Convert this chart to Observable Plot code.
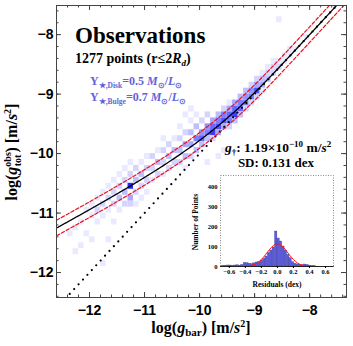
<!DOCTYPE html>
<html><head><meta charset="utf-8">
<script src="https://cdn.jsdelivr.net/npm/d3@7"></script>
<script src="https://cdn.jsdelivr.net/npm/@observablehq/plot@0.6"></script>
<style>
body{margin:0;background:#fff;}
#wrap{position:relative;width:353px;height:346px;}
#wrap svg{position:absolute;}
</style></head><body><div id="wrap"></div>
<script>
// ---------- data ----------
// density cells: [log gbar lower edge, log gobs lower edge, intensity level 1..10]
const densityCells = [
 [-12.4,-11.4,1],
 [-12.3,-11.3,1],[-12.3,-11.7,1],
 [-12.2,-11.2,1],[-12.2,-11.6,1],
 [-12.1,-11.0,1],[-12.1,-11.4,1],
 [-12.0,-10.9,1],[-12.0,-11.1,1],[-12.0,-11.5,1],
 [-11.9,-10.8,1],[-11.9,-11.0,2],[-11.9,-11.2,1],
 [-11.8,-10.7,1],[-11.8,-10.9,2],[-11.8,-11.1,1],[-11.8,-11.9,1],
 [-11.7,-10.6,1],[-11.7,-10.8,2],[-11.7,-11.0,1],[-11.7,-11.5,1],
 [-11.6,-10.5,1],[-11.6,-10.7,2],[-11.6,-10.9,2],[-11.6,-11.2,1],
 [-11.5,-10.4,1],[-11.5,-10.6,2],[-11.5,-10.8,3],[-11.5,-11.0,1],
 [-11.4,-10.3,1],[-11.4,-10.5,2],[-11.4,-10.7,3],[-11.4,-10.9,2],
 [-11.3,-10.2,1],[-11.3,-10.4,2],[-11.3,-10.6,10],[-11.3,-10.8,4],[-11.3,-10.9,2],
 [-11.2,-10.3,2],[-11.2,-10.5,3],[-11.2,-10.7,2],[-11.2,-10.9,1],
 [-11.1,-10.2,1],[-11.1,-10.4,3],[-11.1,-10.6,2],[-11.1,-10.8,1],
 [-11.0,-10.1,1],[-11.0,-10.3,2],[-11.0,-10.5,2],[-11.0,-10.7,1],
 [-10.9,-10.1,2],[-10.9,-10.3,2],[-10.9,-10.5,1],
 [-10.8,-10.0,1],[-10.8,-10.2,3],[-10.8,-10.4,2],
 [-10.7,-9.8,1],[-10.7,-10.0,2],[-10.7,-10.2,2],[-10.7,-10.4,1],
 [-10.6,-9.9,2],[-10.6,-10.1,3],[-10.6,-10.3,2],
 [-10.5,-9.8,1],[-10.5,-10.0,3],[-10.5,-10.2,2],
 [-10.4,-9.6,1],[-10.4,-9.8,2],[-10.4,-10.0,3],[-10.4,-10.2,2],
 [-10.3,-9.4,1],[-10.3,-9.7,2],[-10.3,-9.9,4],[-10.3,-10.1,3],[-10.3,-10.3,1],
 [-10.2,-9.3,1],[-10.2,-9.5,1],[-10.2,-9.7,3],[-10.2,-9.9,4],[-10.2,-10.1,2],
 [-10.1,-9.4,1],[-10.1,-9.6,3],[-10.1,-9.8,6],[-10.1,-10.0,3],
 [-10.0,-9.5,2],[-10.0,-9.7,5],[-10.0,-9.8,7],[-10.0,-9.9,3],
 [-9.9,-9.4,2],[-9.9,-9.6,5],[-9.9,-9.7,6],[-9.9,-9.8,3],[-9.9,-10.2,1],
 [-9.8,-9.5,4],[-9.8,-9.6,7],[-9.8,-9.7,9],[-9.8,-9.8,2],
 [-9.7,-9.4,3],[-9.7,-9.5,6],[-9.7,-9.6,8],[-9.7,-9.7,4],[-9.7,-10.1,1],
 [-9.6,-9.3,2],[-9.6,-9.4,6],[-9.6,-9.5,8],[-9.6,-9.6,4],[-9.6,-10.0,1],
 [-9.5,-9.2,1],[-9.5,-9.3,4],[-9.5,-9.4,7],[-9.5,-9.5,6],[-9.5,-9.6,2],
 [-9.4,-9.2,4],[-9.4,-9.3,7],[-9.4,-9.4,9],[-9.4,-9.5,3],
 [-9.3,-9.1,3],[-9.3,-9.2,6],[-9.3,-9.3,7],[-9.3,-9.4,3],
 [-9.2,-9.0,3],[-9.2,-9.1,5],[-9.2,-9.2,6],[-9.2,-9.3,2],
 [-9.1,-8.9,2],[-9.1,-9.0,5],[-9.1,-9.1,6],[-9.1,-9.2,2],
 [-9.0,-8.8,2],[-9.0,-8.9,4],[-9.0,-9.0,8],[-9.0,-9.1,2],
 [-8.9,-8.7,1],[-8.9,-8.8,3],[-8.9,-8.9,4],[-8.9,-9.0,1],
 [-8.8,-8.6,1],[-8.8,-8.7,2],[-8.8,-8.8,3],
 [-8.7,-8.5,1],[-8.7,-8.6,2],[-8.7,-8.7,2],
 [-8.6,-7.8,1],[-8.6,-8.5,1],[-8.6,-8.6,2],
 [-8.5,-8.4,1],[-8.5,-8.5,1],
 [-8.4,-8.3,1],[-8.4,-8.4,1],
 [-8.3,-8.3,1],
 [-8.1,-8.1,1]
];
const gDagger = 1.19e-10;   // fitted acceleration scale (m/s^2)
const scatterSD = 0.131;    // dex
const nPoints = 1277;
const xMajorTicks = [-12,-11,-10,-9,-8];
const yMajorTicks = [-12,-11,-10,-9,-8];
const xMinorTicks = d3.range(-12.6,-7.3,0.2).map(v=>Math.round(v*5)/5);
const yMinorTicks = d3.range(-12.4,-7.5,0.2).map(v=>Math.round(v*5)/5);
// residual histogram (left bin edge, counts), bin width 0.03 dex
const residBinStart = [-0.69,-0.66,-0.63,-0.60,-0.57,-0.54,-0.51,-0.48,-0.45,-0.42,-0.39,-0.36,-0.33,-0.30,-0.27,-0.24,-0.21,-0.18,-0.15,-0.12,-0.09,-0.06,-0.03,0.00,0.03,0.06,0.09,0.12,0.15,0.18,0.21,0.24,0.27,0.30,0.33,0.36,0.39,0.42,0.45];
const residCounts   = [3,4,5,5,4,5,6,4,8,18,17,14,12,16,20,22,30,38,50,68,80,95,175,140,125,100,80,58,42,22,14,10,9,7,10,8,4,2,2];
const residBinWidth = 0.03;
// gaussian fit curve
const gaussX = [-0.7,-0.5,-0.4,-0.35,-0.3,-0.25,-0.2,-0.15,-0.1,-0.05,0,0.05,0.1,0.15,0.2,0.25,0.3,0.35,0.4,0.5,0.7];
const gaussY = [0,0,1,3,8,18,35,58,84,105,113,105,84,58,35,18,8,3,1,0,0];
const histXTicks = [-0.6,-0.4,-0.2,0,0.2,0.4,0.6];
const histYTicks = [0,100,200,300,400];

// ---------- geometry ----------
const W=353,H=346,mL=56,mR=7,mT=5,mB=49;
const fH=H-mT-mB, fW=W-mL-mR;
const xDom=[-12.6,-7.33], yDom=[-12.42,-7.51];

const logGdag = Math.log10(gDagger);
const fitX = d3.range(xDom[0], xDom[1]+0.01, 0.02);
const rar = x => { const r = Math.sqrt(Math.pow(10, x - logGdag)); return x - Math.log10(1 - Math.exp(-r)); };
const fit = fitX.map(x => ({x, y: rar(x)}));
const oneToOne = [{x:xDom[0],y:xDom[0]},{x:xDom[1],y:xDom[1]}];

const main = Plot.plot({
  width:W,height:H,marginLeft:mL,marginRight:mR,marginTop:mT,marginBottom:mB,
  x:{domain:xDom,label:null}, y:{domain:yDom,label:null},
  color:{type:"linear",domain:[0,10],range:["#ffffff","#2626ff"]},
  style:{fontFamily:"'Liberation Sans', Arial, sans-serif",background:"#fff"},
  marks:[
    Plot.rect(densityCells,{x1:d=>d[0],x2:d=>d[0]+0.1,y1:d=>d[1],y2:d=>d[1]+0.1,fill:d=>d[2]}),
    Plot.line(oneToOne,{x:"x",y:"y",stroke:"#000",strokeWidth:2.2,strokeDasharray:"0 6.5",strokeLinecap:"round",clip:true}),
    Plot.line(fit,{x:"x",y:d=>d.y+scatterSD,stroke:"#e8141c",strokeWidth:1.2,strokeDasharray:"3.5 2",clip:true}),
    Plot.line(fit,{x:"x",y:d=>d.y-scatterSD,stroke:"#e8141c",strokeWidth:1.2,strokeDasharray:"3.5 2",clip:true}),
    Plot.line(fit,{x:"x",y:"y",stroke:"#000",strokeWidth:1.3,clip:true}),
    Plot.tickX(xMajorTicks,{x:d=>d,insetTop:fH-5,stroke:"#444"}),
    Plot.tickX(xMajorTicks,{x:d=>d,insetBottom:fH-5,stroke:"#444"}),
    Plot.tickX(xMinorTicks,{x:d=>d,insetTop:fH-2.5,stroke:"#444"}),
    Plot.tickX(xMinorTicks,{x:d=>d,insetBottom:fH-2.5,stroke:"#444"}),
    Plot.tickY(yMajorTicks,{y:d=>d,insetRight:fW-5,stroke:"#444"}),
    Plot.tickY(yMajorTicks,{y:d=>d,insetLeft:fW-5,stroke:"#444"}),
    Plot.tickY(yMinorTicks,{y:d=>d,insetRight:fW-2.5,stroke:"#444"}),
    Plot.tickY(yMinorTicks,{y:d=>d,insetLeft:fW-2.5,stroke:"#444"}),
    Plot.axisX({ticks:xMajorTicks,tickSize:0,tickPadding:8,fontSize:14,fontWeight:"bold",tickFormat:d3.format("d"),label:null}),
    Plot.axisY({ticks:yMajorTicks,tickSize:0,tickPadding:3,fontSize:14,fontWeight:"bold",tickFormat:d3.format("d"),label:null}),
    Plot.frame({stroke:"#444"})
  ]
});
document.getElementById("wrap").appendChild(main);

// ---------- inset ----------
const IL=186, IT=168, IW=154, IH=125;
const bins = residBinStart.map((s,i)=>({x1:s,x2:s+residBinWidth,n:residCounts[i]}));
const gauss = gaussX.map((x,i)=>({x,y:gaussY[i]}));
const inset = Plot.plot({
  width:IW,height:IH,marginLeft:34,marginRight:7,marginTop:7,marginBottom:27,
  x:{domain:[-0.71,0.7],label:null}, y:{domain:[0,455],label:null},
  style:{fontFamily:"'Liberation Serif', 'Times New Roman', serif",background:"#fff"},
  marks:[
    Plot.frame({stroke:"#8a8a8a",strokeDasharray:"1 1.5"}),
    Plot.rectY(bins,{x1:"x1",x2:"x2",y:"n",fill:"#5c5cd6",stroke:"#3838a8",strokeWidth:0.3}),
    Plot.line(gauss,{x:"x",y:"y",stroke:"#ff1010",strokeWidth:1,curve:"natural"}),
    Plot.ruleY([0],{stroke:"#222",strokeWidth:1}),
    Plot.axisX({ticks:histXTicks,tickSize:2,tickPadding:1,fontSize:6.5,fontWeight:"bold",tickFormat:d3.format(".1f"),label:null}),
    Plot.axisY({ticks:histYTicks,tickSize:0,tickPadding:3,fontSize:6.5,fontWeight:"bold",label:null})
  ]
});
inset.style.left=IL+"px"; inset.style.top=IT+"px";
document.getElementById("wrap").appendChild(inset);

// ---------- rich text ----------
function rich(sel,x,y,parts,attrs){
  const t=sel.append("text").attr("x",x).attr("y",y).attr("text-anchor","start");
  for(const [k,v] of Object.entries(attrs)) t.attr(k,v);
  let cur=0;
  for(const p of parts){
    const sp=t.append("tspan").text(p.t);
    const sh=p.sh||0;
    if(sh!==cur) sp.attr("dy",sh-cur);
    cur=sh;
    if(p.i) sp.attr("font-style","italic");
    if(p.fs) sp.attr("font-size",p.fs);
    if(p.dx) sp.attr("dx",p.dx);
  }
  return t;
}
const serif="'Liberation Serif', 'Times New Roman', serif";
const S=d3.select(main);
rich(S,75,43,[{t:"Observations"}],{"font-family":serif,"font-size":23,"font-weight":"bold"});
rich(S,75,63,[{t:nPoints+" points (r≤2"},{t:"R",i:1},{t:"d",i:1,fs:9,sh:3},{t:")",sh:0}],{"font-family":serif,"font-size":14,"font-weight":"bold"});
const blue="#6262dc";
rich(S,90,85,[{t:"Υ"},{t:"★,Disk",fs:7.5,sh:2.5},{t:"=0.5 ",sh:0},{t:"M",i:1},{t:"⊙",fs:7.5,sh:2.5},{t:"/",sh:0},{t:"L",i:1},{t:"⊙",fs:7.5,sh:2.5}],{"font-family":serif,"font-size":12,"font-weight":"bold",fill:blue});
rich(S,90,101,[{t:"Υ"},{t:"★,Bulge",fs:7.5,sh:2.5},{t:"=0.7 ",sh:0},{t:"M",i:1},{t:"⊙",fs:7.5,sh:2.5},{t:"/",sh:0},{t:"L",i:1},{t:"⊙",fs:7.5,sh:2.5}],{"font-family":serif,"font-size":12,"font-weight":"bold",fill:blue});
rich(S,225,152,[{t:"g",i:1},{t:"†",fs:9,sh:3},{t:": 1.19×10",sh:0},{t:"−10",fs:9,sh:-5},{t:" m/",sh:0},{t:"s",i:1},{t:"2",fs:9,sh:-5}],{"font-family":serif,"font-size":13.5,"font-weight":"bold"});
rich(S,276,167,[{t:"SD: "+scatterSD.toFixed(3)+" dex"}],{"font-family":serif,"font-size":13,"font-weight":"bold","text-anchor":"middle"});
rich(S,201,333,[{t:"log("},{t:"g",i:1},{t:"bar",fs:11,sh:3},{t:") [m/",sh:0},{t:"s",i:1},{t:"2",fs:10,sh:-6},{t:"]",sh:0}],{"font-family":serif,"font-size":16,"font-weight":"bold","text-anchor":"middle"});
rich(S,0,0,[{t:"log("},{t:"g",i:1},{t:"obs",fs:10,sh:-6},{t:"tot",fs:10,sh:4,dx:-14},{t:") [m/",sh:0,dx:2},{t:"s",i:1},{t:"2",fs:10,sh:-6},{t:"]",sh:0}],{"font-family":serif,"font-size":16,"font-weight":"bold","text-anchor":"middle",transform:"translate(17,152) rotate(-90)"});

const SI=d3.select(inset);
rich(SI,277-IL,287-IT,[{t:"Residuals (dex)"}],{"font-family":serif,"font-size":7.5,"font-weight":"bold","text-anchor":"middle"});
rich(SI,0,0,[{t:"Number of Points"}],{"font-family":serif,"font-size":7.5,"font-weight":"bold","text-anchor":"middle",transform:`translate(${198-IL},${222-IT}) rotate(-90)`});
</script></body></html>
